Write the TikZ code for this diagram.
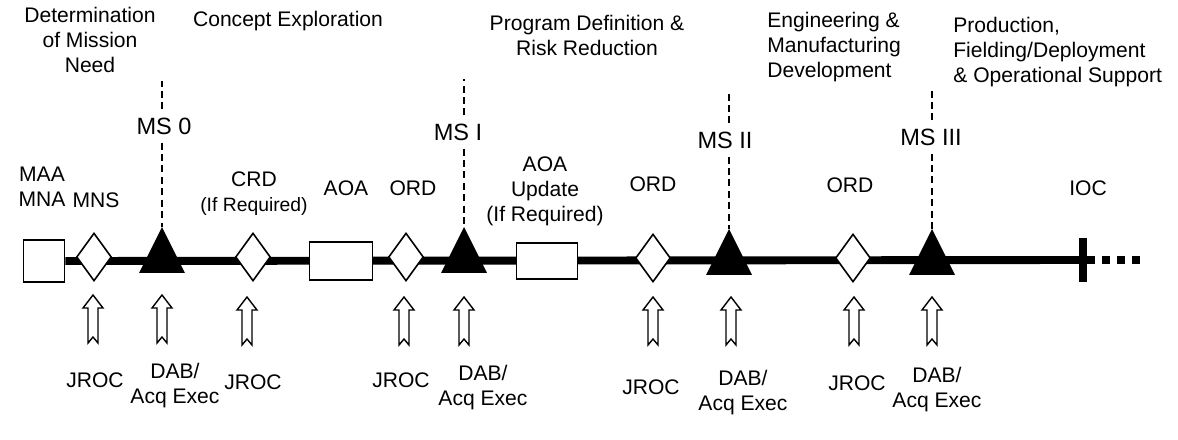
\documentclass[tikz,border=0pt]{standalone}
\usepackage{fontspec}
\setmainfont{Liberation Sans}
\usepackage{tikz}
\usetikzlibrary{shapes.geometric,backgrounds}
\tikzset{
  % text labels
  phase/.style = {
    align=#1,
    font=\fontsize{12}{14.2}\selectfont,
    inner sep=0pt,
  },
  phase/.default=center,
  ms label/.style = {
    font=\fontsize{13.4}{15}\selectfont,
    inner sep=4.5pt,
  },
  % the time line itself
  timeline/.style = {
    line width=4.5pt,
  },
  ms line/.style = {
    line width=0.8pt,
    dash pattern=on 4pt off 2.5pt,
  },
  % items on the time line
  milestone/.style = {
    isosceles triangle,
    shape border rotate=90,
    isosceles triangle stretches,
    fill=black,
    minimum width=0.92cm,
    minimum height=0.92cm,
    inner sep=0pt, outer sep=0pt,
    anchor=apex,
  },
  review/.style = {
    diamond,
    draw, fill=white,
    line width=0.9pt,
    minimum width=0.7cm,
    minimum height=0.96cm,
    inner sep=0pt,
  },
  doc/.style 2 args = {
    rectangle,
    draw, fill=white,
    line width=0.9pt,
    minimum width=#1,
    minimum height=#2,
    inner sep=0pt,
  },
  ioc tick/.style = {
    rectangle, fill=black,
    minimum width=0.16cm,
    minimum height=0.88cm,
    inner sep=0pt,
  },
  % hollow arrows under the line
  approval/.pic = {
    \draw[line width=0.8pt, fill=white]
      (0,0)--(10,13)--(5,13)--(5,48)--(0,42)--(-5,48)--(-5,13)--(-10,13)--cycle;
  },
}

\begin{document}
\begin{tikzpicture}[x=0.02cm, y=-0.02cm]
  \useasboundingbox (0,0) rectangle (1178,440);
  % phases
  \node[phase] (need) at (90,40) {Determination\\of Mission\\Need};
  \node[phase] (concept) at (288,21) {Concept Exploration};
  \node[phase] (pdrr) at (587,35) {Program Definition \&\\Risk Reduction};
  \node[phase=left, anchor=west] (emd) at (767,47) {Engineering \&\\Manufacturing\\Development};
  \node[phase=left, anchor=west] (prod) at (953,52) {Production,\\Fielding/Deployment\\\& Operational Support};
  % items on the line
  \node[doc={0.82cm}{0.84cm}] (maa) at (44,261) {};
  \node[review] (mns) at (94,257) {};
  \node[milestone] (ms0) at (162,227) {};
  \node[review] (crd) at (253,257) {};
  \node[doc={1.26cm}{0.76cm}] (aoa) at (341,261) {};
  \node[review] (ord1) at (406,257) {};
  \node[milestone] (ms1) at (464,227) {};
  \node[doc={1.22cm}{0.72cm}] (aoaup) at (547,261) {};
  \node[review] (ord2) at (653,258) {};
  \node[milestone] (ms2) at (729,229) {};
  \node[review] (ord3) at (853,258) {};
  \node[milestone] (ms3) at (932,229) {};
  \node[ioc tick] (ioc) at (1083,260) {};
  \coordinate (more) at (1140,260);
  \begin{scope}[on background layer]
    \draw[timeline] (maa.east) -- (ioc.center);
  \end{scope}
  \draw[timeline, dash pattern=on 4.5pt off 4pt] (ioc.east) -- (more);
  % labels above the items
  \node[phase] (maa text) at (42,187) {MAA\\MNA};
  \node[phase] (mns text) at (96,200) {MNS};
  \node[phase] (crd text) at (254,194) {CRD\\{\fontsize{11}{13}\selectfont(If Required)}};
  \node[phase] (aoa text) at (346,188) {AOA};
  \node[phase] (ord1 text) at (413,188) {ORD};
  \node[phase] (aoaup text) at (545,191) {AOA\\Update\\(If Required)};
  \node[phase] (ord2 text) at (653,184) {ORD};
  \node[phase] (ord3 text) at (850,185) {ORD};
  \node[phase] (ioc text) at (1088,188) {IOC};
  % milestones
  \node[ms label] (ms0 text) at (164,126) {MS 0};
  \node[ms label] (ms1 text) at (458,132) {MS I};
  \node[ms label] (ms2 text) at (725,140) {MS II};
  \node[ms label] (ms3 text) at (931,137) {MS III};
  \draw[ms line] (ms0.apex |- ms0 text.south) -- (ms0.apex);
  \draw[ms line] (ms0.apex |- ms0 text.north) -- ++(0,-28);
  \draw[ms line] (ms1.apex |- ms1 text.south) -- (ms1.apex);
  \draw[ms line] (ms1.apex |- ms1 text.north) -- ++(0,-36);
  \draw[ms line] (ms2.apex |- ms2 text.south) -- (ms2.apex);
  \draw[ms line] (ms2.apex |- ms2 text.north) -- ++(0,-34);
  \draw[ms line] (ms3.apex |- ms3 text.south) -- (ms3.apex);
  \draw[ms line] (ms3.apex |- ms3 text.north) -- ++(0,-34);
  % approvals
  \pic at (93,295) {approval};
  \pic at (162,295) {approval};
  \pic at (247,297) {approval};
  \pic at (404,297) {approval};
  \pic at (464,297) {approval};
  \pic at (653,297) {approval};
  \pic at (731,297) {approval};
  \pic at (854,297) {approval};
  \pic at (932,297) {approval};
  \node[phase] (jroc1) at (95,380) {JROC};
  \node[phase] (dab0) at (175,386) {DAB/\\Acq Exec};
  \node[phase] (jroc2) at (253,382) {JROC};
  \node[phase] (jroc3) at (401,380) {JROC};
  \node[phase] (dab1) at (483,388) {DAB/\\Acq Exec};
  \node[phase] (jroc4) at (651,387) {JROC};
  \node[phase] (dab2) at (743,393) {DAB/\\Acq Exec};
  \node[phase] (jroc5) at (857,383) {JROC};
  \node[phase] (dab3) at (937,390) {DAB/\\Acq Exec};
\end{tikzpicture}
\end{document}
